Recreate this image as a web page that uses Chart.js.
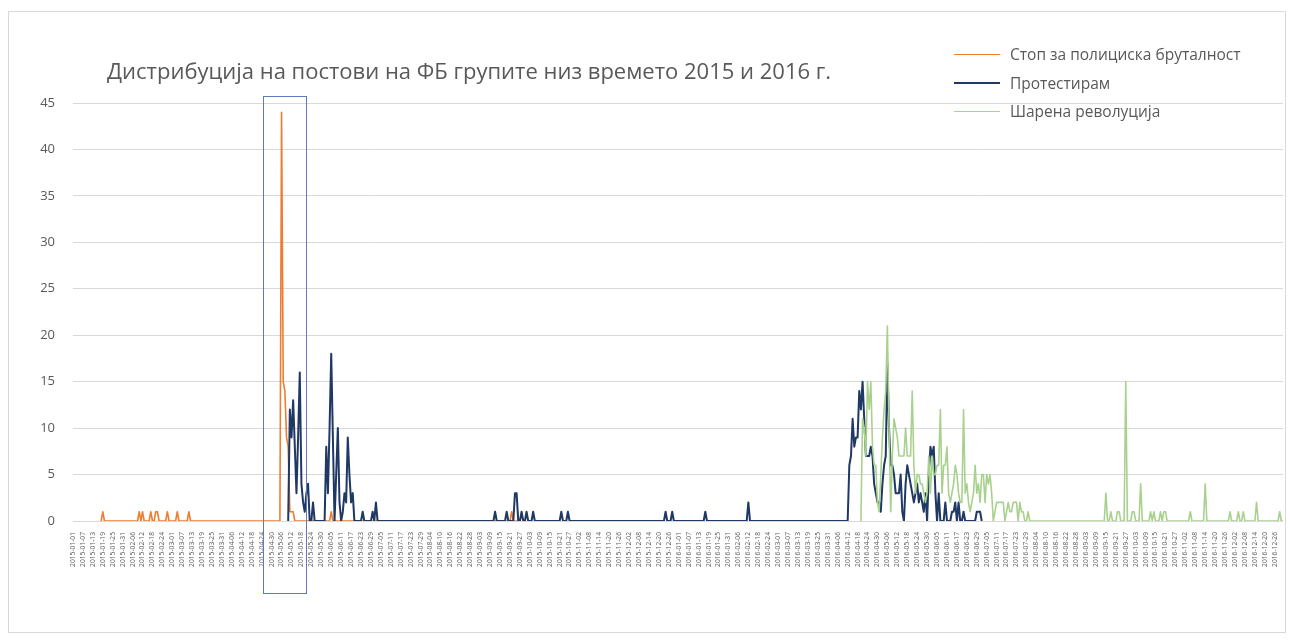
<!DOCTYPE html>
<html>
<head>
<meta charset="utf-8">
<script src="https://cdn.jsdelivr.net/npm/chart.js@4.4.1/dist/chart.umd.min.js"></script>
<style>
  body { margin: 0; background: #fff; }
  #frame { position: absolute; left: 8px; top: 11px; width: 1276px; height: 620px; border: 1px solid #d9d9d9; }
  #chart { position: absolute; left: 0; top: 0; }
  #title { position: absolute; left: 107px; top: 55px; font: 22px "Open Sans"; color: #595959; white-space: nowrap; }
  #legend { position: absolute; left: 954px; top: 40px; font: 15.5px "Open Sans"; color: #595959; }
  .item { display: flex; align-items: center; height: 28.5px; white-space: nowrap; }
  .swatch { width: 46px; margin-right: 10px; }
</style>
</head>
<body>
<div id="frame"></div>
<canvas id="chart" width="1290" height="643"></canvas>
<div id="title">Дистрибуција на постови на ФБ групите низ времето 2015 и 2016 г.</div>
<div id="legend"></div>
<script>
// categories: one per day, the sheet gives February 29 days in both years
var years = [2015, 2016];
var monthDays = [31, 29, 31, 30, 31, 30, 31, 31, 30, 31, 30, 31];
var labelEvery = 6;
var yMax = 45;
var yStep = 5;

var seriesNames = ["Стоп за полициска бруталност", "Протестирам", "Шарена револуција"];
var seriesColors = ["#ed7d31", "#1f3864", "#a9d18e"];

// each page: first and last day it has data for, and the days with posts (all others are 0)
var brutalRange = ["2015-01-18", "2015-09-27"];
var brutalPosts = [
  ["2015-01-19", 1], ["2015-02-10", 1], ["2015-02-12", 1], ["2015-02-17", 1], ["2015-02-20", 1],
  ["2015-02-21", 1], ["2015-02-27", 1], ["2015-03-04", 1], ["2015-03-11", 1],
  ["2015-05-06", 44], ["2015-05-07", 15], ["2015-05-08", 14], ["2015-05-09", 9], ["2015-05-10", 8],
  ["2015-05-11", 1], ["2015-05-12", 1], ["2015-05-13", 1], ["2015-06-05", 1], ["2015-09-22", 1]
];

var protestRange = ["2015-05-10", "2016-07-02"];
var protestPosts = [
  ["2015-05-11", 12], ["2015-05-12", 9], ["2015-05-13", 13], ["2015-05-14", 8], ["2015-05-15", 3],
  ["2015-05-16", 9], ["2015-05-17", 16], ["2015-05-18", 4], ["2015-05-19", 2], ["2015-05-20", 1],
  ["2015-05-21", 3], ["2015-05-22", 4], ["2015-05-25", 2], ["2015-06-02", 8], ["2015-06-03", 3],
  ["2015-06-04", 10], ["2015-06-05", 18], ["2015-06-06", 9], ["2015-06-08", 5], ["2015-06-09", 10],
  ["2015-06-10", 2], ["2015-06-12", 1], ["2015-06-13", 3], ["2015-06-14", 2], ["2015-06-15", 9],
  ["2015-06-16", 5], ["2015-06-17", 2], ["2015-06-18", 3], ["2015-06-24", 1], ["2015-06-30", 1],
  ["2015-07-02", 2], ["2015-09-12", 1], ["2015-09-19", 1], ["2015-09-24", 3], ["2015-09-25", 3],
  ["2015-09-28", 1], ["2015-10-01", 1], ["2015-10-05", 1], ["2015-10-22", 1], ["2015-10-26", 1],
  ["2015-12-24", 1], ["2015-12-28", 1], ["2016-01-17", 1], ["2016-02-12", 2],
  ["2016-04-13", 6], ["2016-04-14", 7], ["2016-04-15", 11], ["2016-04-16", 8], ["2016-04-17", 9],
  ["2016-04-18", 9], ["2016-04-19", 14], ["2016-04-20", 12], ["2016-04-21", 15], ["2016-04-22", 11],
  ["2016-04-23", 7], ["2016-04-24", 7], ["2016-04-25", 7], ["2016-04-26", 8], ["2016-04-27", 7],
  ["2016-04-28", 4], ["2016-04-29", 3], ["2016-04-30", 2], ["2016-05-01", 2], ["2016-05-02", 1],
  ["2016-05-03", 4], ["2016-05-04", 6], ["2016-05-05", 7], ["2016-05-06", 17], ["2016-05-07", 10],
  ["2016-05-08", 6], ["2016-05-09", 6], ["2016-05-10", 5], ["2016-05-11", 3], ["2016-05-12", 3],
  ["2016-05-13", 3], ["2016-05-14", 5], ["2016-05-15", 1], ["2016-05-17", 4], ["2016-05-18", 6],
  ["2016-05-19", 5], ["2016-05-20", 4], ["2016-05-21", 3], ["2016-05-22", 2], ["2016-05-23", 3],
  ["2016-05-24", 4], ["2016-05-25", 2], ["2016-05-26", 3], ["2016-05-27", 2], ["2016-05-28", 1],
  ["2016-05-29", 3], ["2016-05-31", 5], ["2016-06-01", 8], ["2016-06-02", 7], ["2016-06-03", 8],
  ["2016-06-04", 3], ["2016-06-06", 3], ["2016-06-10", 2], ["2016-06-14", 1], ["2016-06-15", 1],
  ["2016-06-16", 2], ["2016-06-18", 2], ["2016-06-21", 1], ["2016-06-29", 1], ["2016-06-30", 1],
  ["2016-07-01", 1]
];

var rainbowRange = ["2016-04-20", "2016-12-31"];
var rainbowPosts = [
  ["2016-04-21", 11], ["2016-04-22", 10], ["2016-04-23", 7], ["2016-04-24", 15], ["2016-04-25", 12],
  ["2016-04-26", 15], ["2016-04-27", 8], ["2016-04-28", 6], ["2016-04-29", 6], ["2016-04-30", 2],
  ["2016-05-01", 1], ["2016-05-02", 5], ["2016-05-03", 9], ["2016-05-04", 12], ["2016-05-05", 14],
  ["2016-05-06", 21], ["2016-05-07", 10], ["2016-05-08", 1], ["2016-05-09", 7], ["2016-05-10", 11],
  ["2016-05-11", 10], ["2016-05-12", 9], ["2016-05-13", 7], ["2016-05-14", 7], ["2016-05-15", 7],
  ["2016-05-16", 7], ["2016-05-17", 10], ["2016-05-18", 7], ["2016-05-19", 7], ["2016-05-20", 7],
  ["2016-05-21", 14], ["2016-05-22", 6], ["2016-05-23", 3], ["2016-05-24", 5], ["2016-05-25", 5],
  ["2016-05-26", 4], ["2016-05-27", 4], ["2016-05-28", 3], ["2016-05-29", 2], ["2016-05-30", 3],
  ["2016-05-31", 7], ["2016-06-01", 3], ["2016-06-02", 7], ["2016-06-03", 5], ["2016-06-04", 5],
  ["2016-06-05", 6], ["2016-06-06", 6], ["2016-06-07", 12], ["2016-06-08", 3], ["2016-06-09", 6],
  ["2016-06-10", 6], ["2016-06-11", 8], ["2016-06-12", 3], ["2016-06-13", 2], ["2016-06-14", 3],
  ["2016-06-15", 4], ["2016-06-16", 6], ["2016-06-17", 5], ["2016-06-18", 3], ["2016-06-19", 2],
  ["2016-06-20", 2], ["2016-06-21", 12], ["2016-06-22", 3], ["2016-06-23", 4], ["2016-06-24", 2],
  ["2016-06-25", 1], ["2016-06-26", 2], ["2016-06-27", 3], ["2016-06-28", 6], ["2016-06-29", 3],
  ["2016-06-30", 4], ["2016-07-01", 2], ["2016-07-02", 5], ["2016-07-03", 5], ["2016-07-04", 2],
  ["2016-07-05", 5], ["2016-07-06", 4], ["2016-07-07", 5], ["2016-07-08", 3], ["2016-07-10", 1],
  ["2016-07-11", 2], ["2016-07-12", 2], ["2016-07-13", 2], ["2016-07-14", 2], ["2016-07-15", 2],
  ["2016-07-17", 1], ["2016-07-18", 2], ["2016-07-19", 1], ["2016-07-20", 1], ["2016-07-21", 2],
  ["2016-07-22", 2], ["2016-07-23", 2], ["2016-07-25", 2], ["2016-07-26", 1], ["2016-07-27", 1],
  ["2016-07-30", 1], ["2016-09-15", 3], ["2016-09-18", 1], ["2016-09-22", 1], ["2016-09-23", 1],
  ["2016-09-27", 15], ["2016-10-01", 1], ["2016-10-02", 1], ["2016-10-06", 4], ["2016-10-12", 1],
  ["2016-10-14", 1], ["2016-10-18", 1], ["2016-10-20", 1], ["2016-10-21", 1], ["2016-11-05", 1],
  ["2016-11-14", 4], ["2016-11-29", 1], ["2016-12-04", 1], ["2016-12-07", 1], ["2016-12-15", 2],
  ["2016-12-29", 1]
];

// the highlighted period (box drawn round it)
var boxDays = ["2015-04-24", "2015-05-20"];

function pad(n) { return n < 10 ? "0" + n : "" + n; }
var days = [];
years.forEach(function (y) {
  monthDays.forEach(function (len, m) {
    for (var d = 1; d <= len; d++) days.push(y + "-" + pad(m + 1) + "-" + pad(d));
  });
});

function buildSeries(range, posts) {
  var lookup = {};
  posts.forEach(function (p) { lookup[p[0]] = p[1]; });
  return days.map(function (day) {
    if (day < range[0] || day > range[1]) return null;
    return lookup[day] || 0;
  });
}

var seriesData = [
  buildSeries(brutalRange, brutalPosts),
  buildSeries(protestRange, protestPosts),
  buildSeries(rainbowRange, rainbowPosts)
];
var lineWidths = [1.6, 2, 1.6];

var boxPlugin = {
  id: "periodBox",
  afterDatasetsDraw: function (chart) {
    var x = chart.scales.x, y = chart.scales.y, ctx = chart.ctx;
    var x1 = Math.round(x.getPixelForValue(days.indexOf(boxDays[0]) + 0.5)) + 0.5;
    var x2 = Math.round(x.getPixelForValue(days.indexOf(boxDays[1]) + 0.5)) + 0.5;
    var y1 = Math.round(y.getPixelForValue(45.7)) + 0.5;
    var y2 = chart.chartArea.bottom + 72.5;
    ctx.save();
    ctx.strokeStyle = "#5b7bbd";
    ctx.lineWidth = 1;
    ctx.strokeRect(x1, y1, x2 - x1, y2 - y1);
    ctx.restore();
  }
};

var ctx = document.getElementById("chart").getContext("2d");
var postsChart = new Chart(ctx, {
  type: "line",
  data: {
    labels: days,
    datasets: seriesNames.map(function (name, i) {
      return {
        label: name,
        data: seriesData[i],
        borderColor: seriesColors[i],
        borderWidth: lineWidths[i],
        borderJoinStyle: "round",
        pointRadius: 0,
        tension: 0,
        spanGaps: false,
        order: 3 - i
      };
    })
  },
  options: {
    responsive: false,
    animation: false,
    devicePixelRatio: 1,
    layout: { padding: { top: 103, right: 7, left: 0, bottom: 0 } },
    plugins: {
      legend: { display: false },
      tooltip: { enabled: false }
    },
    scales: {
      x: {
        grid: { display: false },
        border: { display: false },
        afterFit: function (scale) {
          scale.height = 122;
          scale.paddingLeft = 0;
          scale.paddingRight = 0;
        },
        ticks: {
          autoSkip: false,
          minRotation: 90,
          maxRotation: 90,
          padding: 3,
          color: "#595959",
          font: { family: "Open Sans", size: 6.7 },
          callback: function (value, index) {
            return index % labelEvery === 0 ? this.getLabelForValue(value) : "";
          }
        }
      },
      y: {
        min: 0,
        max: yMax,
        border: { display: false },
        grid: { color: "#d9d9d9", lineWidth: 1, drawTicks: false },
        afterFit: function (scale) { scale.width = 73; },
        ticks: {
          stepSize: yStep,
          padding: 18,
          color: "#595959",
          font: { family: "Open Sans", size: 13 }
        }
      }
    }
  },
  plugins: [boxPlugin]
});

// legend, built from the chart's datasets
var legend = document.getElementById("legend");
postsChart.data.datasets.forEach(function (ds) {
  var item = document.createElement("div");
  item.className = "item";
  var sw = document.createElement("div");
  sw.className = "swatch";
  sw.style.borderTop = ds.borderWidth + "px solid " + ds.borderColor;
  var txt = document.createElement("span");
  txt.textContent = ds.label;
  item.appendChild(sw);
  item.appendChild(txt);
  legend.appendChild(item);
});
</script>
</body>
</html>
